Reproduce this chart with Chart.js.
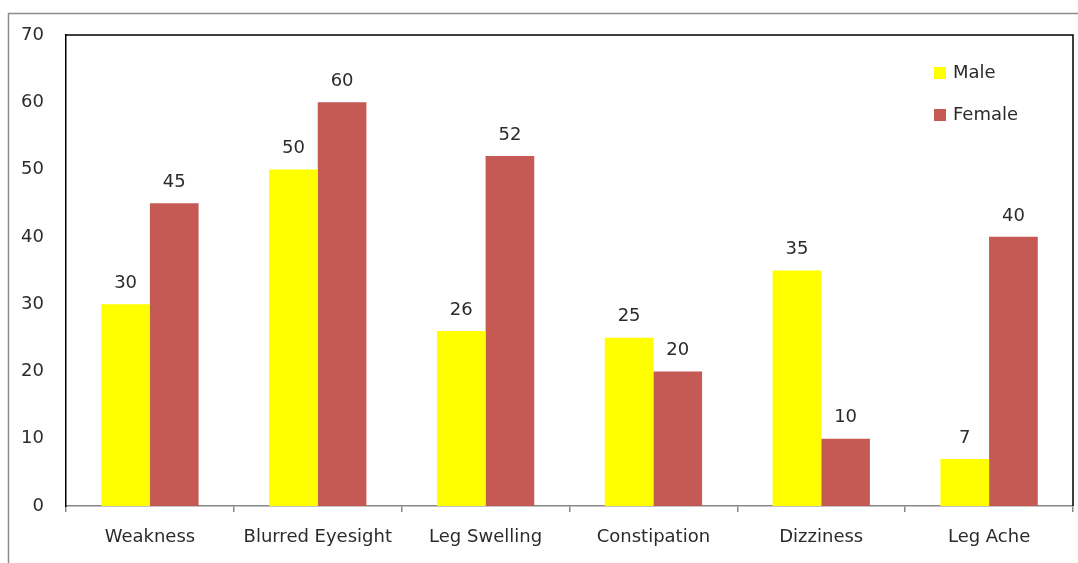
<!DOCTYPE html>
<html>
<head>
<meta charset="utf-8">
<script src="https://cdn.jsdelivr.net/npm/chart.js@4.4.1/dist/chart.umd.min.js"></script>
<style>
  html, body { margin: 0; padding: 0; background: #ffffff; }
  #wrap { width: 1078px; height: 563px; position: relative; }
</style>
</head>
<body>
<div id="wrap"><canvas id="chart" width="1078" height="563"></canvas></div>
<script>
// Symptom categories and counts per sex
const categories = ['Weakness', 'Blurred Eyesight', 'Leg Swelling', 'Constipation', 'Dizziness', 'Leg Ache'];
const maleValues = [30, 50, 26, 25, 35, 7];
const femaleValues = [45, 60, 52, 20, 10, 40];
const yTicks = [0, 10, 20, 30, 40, 50, 60, 70];

const FONT = '"DejaVu Sans", "Noto Sans", sans-serif';
const FONT_SIZE = 18;
const TEXT = '#2b2b2b';

// Outer frame, plot border (top/right), value labels and legend
const decorations = {
  id: 'decorations',
  beforeDraw(chart) {
    const ctx = chart.ctx;
    ctx.save();
    ctx.fillStyle = '#ffffff';
    ctx.fillRect(0, 0, chart.width, chart.height);
    ctx.strokeStyle = '#8c8c8c';
    ctx.lineWidth = 1.5;
    ctx.beginPath();
    ctx.moveTo(8.5, chart.height);
    ctx.lineTo(8.5, 13.5);
    ctx.lineTo(chart.width, 13.5);
    ctx.stroke();
    ctx.restore();
  },
  afterDraw(chart) {
    const ctx = chart.ctx;
    const a = chart.chartArea;
    ctx.save();
    ctx.strokeStyle = '#000000';
    ctx.lineWidth = 1.5;
    ctx.beginPath();
    ctx.moveTo(a.left, a.top);
    ctx.lineTo(a.right, a.top);
    ctx.lineTo(a.right, a.bottom);
    ctx.stroke();

    // value labels above each bar
    ctx.fillStyle = TEXT;
    ctx.font = FONT_SIZE + 'px ' + FONT;
    ctx.textAlign = 'center';
    ctx.textBaseline = 'middle';
    chart.data.datasets.forEach((ds, i) => {
      chart.getDatasetMeta(i).data.forEach((bar, j) => {
        ctx.fillText(String(ds.data[j]), bar.x, bar.y - 21);
      });
    });

    // legend inside the plot, top right
    const lx = 934, ly = 73, gap = 42;
    chart.data.datasets.forEach((ds, i) => {
      const y = ly + i * gap;
      ctx.fillStyle = ds.backgroundColor;
      ctx.fillRect(lx, y - 6, 12, 12);
      ctx.fillStyle = TEXT;
      ctx.textAlign = 'left';
      ctx.fillText(ds.label, lx + 19, y);
    });
    ctx.restore();
  }
};

new Chart(document.getElementById('chart'), {
  type: 'bar',
  data: {
    labels: categories,
    datasets: [
      { label: 'Male', data: maleValues, backgroundColor: '#FFFF00', categoryPercentage: 0.58, barPercentage: 1.0 },
      { label: 'Female', data: femaleValues, backgroundColor: '#C55A54', categoryPercentage: 0.58, barPercentage: 1.0 }
    ]
  },
  options: {
    responsive: false,
    animation: false,
    layout: { padding: { top: 35, right: 5, left: 0, bottom: 0 } },
    plugins: { legend: { display: false }, tooltip: { enabled: false } },
    scales: {
      x: {
        grid: { display: true, drawOnChartArea: false, offset: true, tickLength: 6, color: '#868686', lineWidth: 1.5 },
        border: { display: true, color: '#868686', width: 1.5 },
        ticks: { color: TEXT, font: { family: FONT, size: FONT_SIZE }, padding: 15, maxRotation: 0 },
        afterFit(scale) { scale.height = 57; }
      },
      y: {
        min: 0,
        max: 70,
        afterBuildTicks(scale) { scale.ticks = yTicks.map(v => ({ value: v })); },
        grid: { display: false, drawTicks: false },
        border: { display: true, color: '#000000', width: 1.5 },
        ticks: { color: TEXT, font: { family: FONT, size: FONT_SIZE }, padding: 22 },
        afterFit(scale) { scale.width = 66; }
      }
    }
  },
  plugins: [decorations]
});
</script>
</body>
</html>
